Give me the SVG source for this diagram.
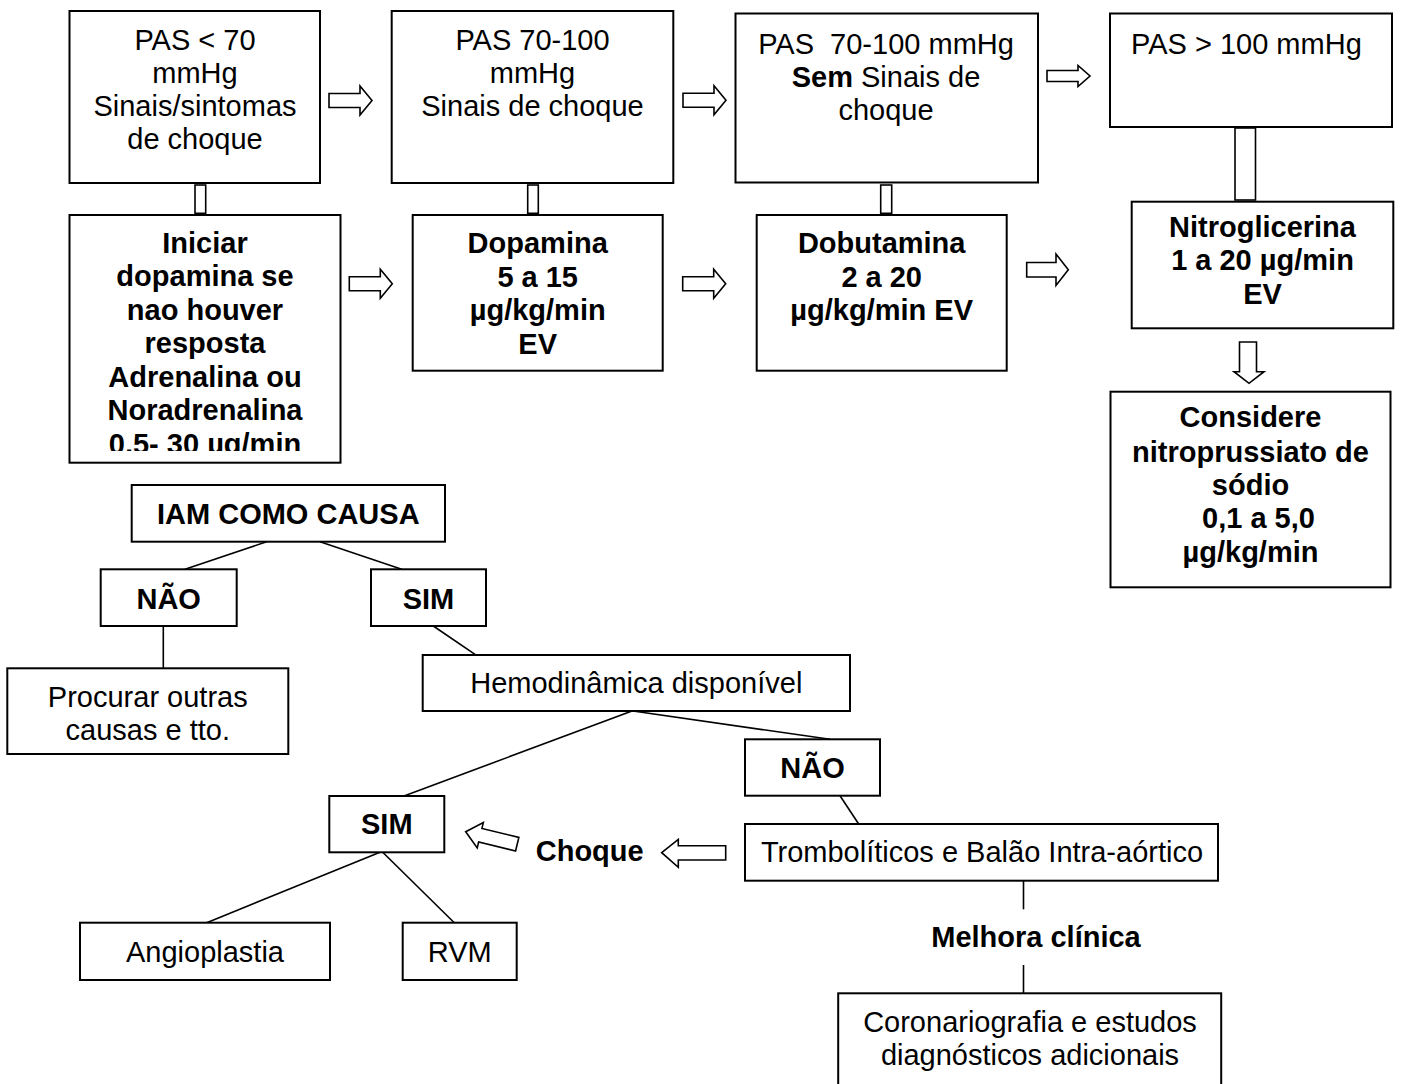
<svg xmlns="http://www.w3.org/2000/svg" xmlns:xlink="http://www.w3.org/1999/xlink" width="1406" height="1084" viewBox="0 0 1406 1084">
<style>
.box{fill:#fff;stroke:#000;stroke-width:2}
.t{font-family:"Liberation Sans",Arial,Helvetica,sans-serif;font-size:29px;text-anchor:middle;fill:#000}
.l{text-anchor:start}
.b{font-weight:bold}
.ln{stroke:#000;stroke-width:1.6;fill:none}
.ar{fill:#fff;stroke:#000;stroke-width:1.6;stroke-linejoin:miter}
</style>
<defs>
<path id="ra" d="M0,-7 H31 V-14.5 L43,0 L31,14.5 V7 H0 Z"/>
<clipPath id="clipIni"><rect x="70" y="216" width="270" height="235"/></clipPath>
</defs>
<rect width="1406" height="1084" fill="#fff"/>

<g id="connectors">
<use href="#ra" class="ar" transform="translate(329,100.5)"/>
<use href="#ra" class="ar" transform="translate(683,100.3)"/>
<path class="ar" d="M1047,70.5 H1078 V65.5 L1090,76 L1078,86.5 V81.5 H1047 Z"/>
<use href="#ra" class="ar" transform="translate(349.3,283.8)"/>
<use href="#ra" class="ar" transform="translate(682.7,283.8)"/>
<path class="ar" d="M1026.7,262.5 H1056 V254 L1068.3,269.7 L1056,285.4 V277 H1026.7 Z"/>
<rect class="ar" x="195" y="185" width="10.7" height="28.3"/>
<rect class="ar" x="527.7" y="185" width="10.6" height="28.3"/>
<rect class="ar" x="880.7" y="185" width="11" height="28.3"/>
<rect class="ar" x="1235" y="128" width="20.5" height="72"/>
<path class="ar" d="M1239.5,342 H1256.5 V371.7 H1264 L1249,383.3 L1234,371.7 H1239.5 Z"/>
<path class="ar" d="M661.7,852.7 L678.3,839.3 V845.7 H725.7 V860 H678.3 V867.3 Z"/>
<path class="ar" d="M0,0 L15,-13 V-7 H53 V7 H15 V13 Z" transform="translate(465.7,831.7) rotate(13.6)"/>
<line class="ln" x1="266.7" y1="541.7" x2="185" y2="569.3"/>
<line class="ln" x1="320" y1="541.7" x2="401.7" y2="569.3"/>
<line class="ln" x1="163.3" y1="626" x2="163.3" y2="668.3"/>
<line class="ln" x1="433.3" y1="626" x2="475" y2="654.3"/>
<line class="ln" x1="632" y1="711" x2="404" y2="796"/>
<line class="ln" x1="633" y1="711" x2="830" y2="739.3"/>
<line class="ln" x1="840" y1="795.7" x2="858.7" y2="824"/>
<line class="ln" x1="380" y1="852.3" x2="206.7" y2="922.7"/>
<line class="ln" x1="382.7" y1="852.3" x2="454.3" y2="922.7"/>
<line class="ln" x1="1023.5" y1="880.7" x2="1023.5" y2="909.3"/>
<line class="ln" x1="1023.5" y1="965" x2="1023.5" y2="993.3"/>
</g>

<g id="n-pas70">
<rect class="box" x="69.5" y="11" width="250.5" height="172"/>
<text class="t" x="195" y="50">PAS &lt; 70</text>
<text class="t" x="195" y="83">mmHg</text>
<text class="t" x="195" y="116">Sinais/sintomas</text>
<text class="t" x="195" y="149">de choque</text>
</g>
<g id="n-pas70-100">
<rect class="box" x="391.7" y="11" width="281.6" height="172"/>
<text class="t" x="532.5" y="50">PAS 70-100</text>
<text class="t" x="532.5" y="83">mmHg</text>
<text class="t" x="532.5" y="116">Sinais de choque</text>
</g>
<g id="n-pas70-100-sem">
<rect class="box" x="735.5" y="13.5" width="302.5" height="169"/>
<text class="t" x="886" y="54" xml:space="preserve">PAS  70-100 mmHg</text>
<text class="t" x="886" y="87"><tspan class="b">Sem</tspan> Sinais de</text>
<text class="t" x="886" y="120">choque</text>
</g>
<g id="n-pas100">
<rect class="box" x="1110" y="13.5" width="282" height="113.5"/>
<text class="t l" x="1131" y="54">PAS &gt; 100 mmHg</text>
</g>

<g id="n-iniciar">
<rect class="box" x="69.5" y="215" width="271" height="247.7"/>
<g clip-path="url(#clipIni)">
<text class="t b" x="205" y="252.7">Iniciar</text>
<text class="t b" x="205" y="286.2">dopamina se</text>
<text class="t b" x="205" y="319.7">nao houver</text>
<text class="t b" x="205" y="353.2">resposta</text>
<text class="t b" x="205" y="386.7">Adrenalina ou</text>
<text class="t b" x="205" y="420.2">Noradrenalina</text>
<text class="t b" x="205" y="453.7">0,5- 30 µg/min</text>
</g>
</g>
<g id="n-dopamina">
<rect class="box" x="412.7" y="215" width="250" height="155.7"/>
<text class="t b" x="537.7" y="252.7">Dopamina</text>
<text class="t b" x="537.7" y="286.5">5 a 15</text>
<text class="t b" x="537.7" y="320">µg/kg/min</text>
<text class="t b" x="537.7" y="354">EV</text>
</g>
<g id="n-dobutamina">
<rect class="box" x="756.7" y="215" width="250" height="155.7"/>
<text class="t b" x="881.7" y="252.7">Dobutamina</text>
<text class="t b" x="881.7" y="286.5">2 a 20</text>
<text class="t b" x="881.7" y="320">µg/kg/min EV</text>
</g>
<g id="n-nitro">
<rect class="box" x="1131.7" y="201.7" width="261.6" height="126.6"/>
<text class="t b" x="1262.5" y="236.7">Nitroglicerina</text>
<text class="t b" x="1262.5" y="270">1 a 20 µg/min</text>
<text class="t b" x="1262.5" y="304">EV</text>
</g>
<g id="n-considere">
<rect class="box" x="1110.5" y="391.7" width="280" height="195.6"/>
<text class="t b" x="1250.5" y="427.3">Considere</text>
<text class="t b" x="1250.5" y="461.5">nitroprussiato de</text>
<text class="t b" x="1250.5" y="495">sódio</text>
<text class="t b" x="1258.5" y="528.3">0,1 a 5,0</text>
<text class="t b" x="1250.5" y="561.7">µg/kg/min</text>
</g>

<g id="n-iam">
<rect class="box" x="131.7" y="485" width="313.3" height="56.7"/>
<text class="t b" x="288.3" y="524">IAM COMO CAUSA</text>
</g>
<g id="n-nao1">
<rect class="box" x="100.7" y="569.3" width="136" height="56.7"/>
<text class="t b" x="168.7" y="609">NÃO</text>
</g>
<g id="n-sim1">
<rect class="box" x="371" y="569.3" width="115" height="56.7"/>
<text class="t b" x="428.5" y="609">SIM</text>
</g>
<g id="n-procurar">
<rect class="box" x="7.3" y="668.3" width="281" height="85.7"/>
<text class="t" x="147.8" y="706.7">Procurar outras</text>
<text class="t" x="147.8" y="740">causas e tto.</text>
</g>
<g id="n-hemo">
<rect class="box" x="422.7" y="655" width="427.3" height="56"/>
<text class="t" x="636.3" y="693.3">Hemodinâmica disponível</text>
</g>
<g id="n-nao2">
<rect class="box" x="745" y="739.3" width="135" height="56.4"/>
<text class="t b" x="812.5" y="778.3">NÃO</text>
</g>
<g id="n-sim2">
<rect class="box" x="329.3" y="796" width="115" height="56.3"/>
<text class="t b" x="386.8" y="834.3">SIM</text>
</g>
<g id="n-choque">
<text class="t b" x="589.7" y="861">Choque</text>
</g>
<g id="n-tromb">
<rect class="box" x="745" y="824" width="473" height="56.7"/>
<text class="t" x="982" y="861.7">Trombolíticos e Balão Intra-aórtico</text>
</g>
<g id="n-melhora">
<text class="t b" x="1036" y="946.7">Melhora clínica</text>
</g>
<g id="n-coronario">
<rect class="box" x="838.2" y="993.3" width="383" height="120"/>
<text class="t" x="1030" y="1031.7">Coronariografia e estudos</text>
<text class="t" x="1030" y="1065">diagnósticos adicionais</text>
</g>
<g id="n-angio">
<rect class="box" x="80" y="922.7" width="250" height="57.3"/>
<text class="t" x="205" y="961.7">Angioplastia</text>
</g>
<g id="n-rvm">
<rect class="box" x="402.7" y="922.7" width="114" height="57.3"/>
<text class="t" x="459.7" y="961.7">RVM</text>
</g>
</svg>
